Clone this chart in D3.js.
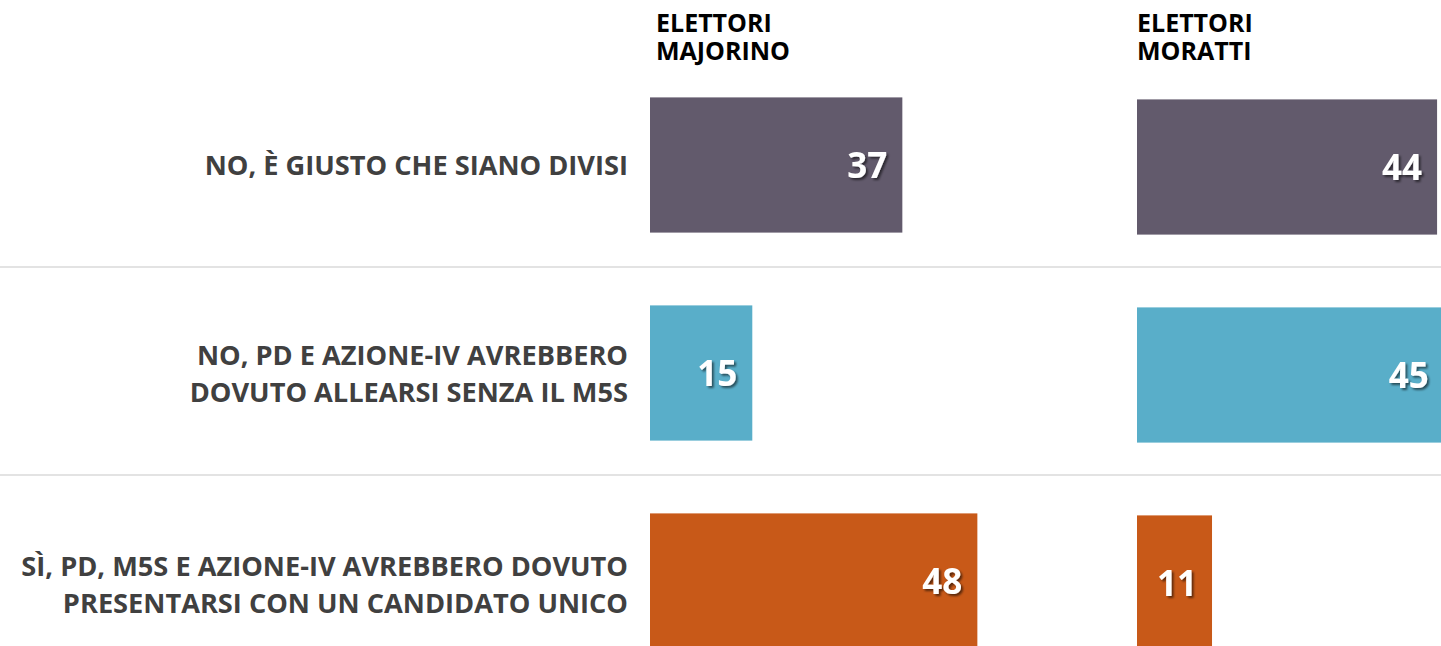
<!DOCTYPE html>
<meta charset="utf-8">
<style>
    body { margin: 0; background: #fff; }
    text { font-family: "Open Sans", sans-serif; font-weight: 700; }
    .label { fill: #404040; font-size: 27.2px; }
    .head { fill: #000; font-size: 25px; }
    .value { fill: #fff; font-size: 35px; }
    .sep { stroke: #e3e3e3; stroke-width: 2; }
</style>
<body>
<script src="https://cdn.jsdelivr.net/npm/d3@7"></script>
<script>
    var categories = ["no_divisi", "no_senza_m5s", "si_unico"];
    var labels = [
        ["NO, È GIUSTO CHE SIANO DIVISI"],
        ["NO, PD E AZIONE-IV AVREBBERO", "DOVUTO ALLEARSI SENZA IL M5S"],
        ["SÌ, PD, M5S E AZIONE-IV AVREBBERO DOVUTO", "PRESENTARSI CON UN CANDIDATO UNICO"]
    ];
    var groups = [["ELETTORI", "MAJORINO"], ["ELETTORI", "MORATTI"]];
    var majorino = [37, 15, 48];
    var moratti = [44, 45, 11];
    var colors = ["#625a6c", "#59aec9", "#c85918"];

    var width = 1441, height = 646;

    var svg = d3.select("body").append("svg")
        .attr("width", width)
        .attr("height", height);

    var defs = svg.append("defs");
    defs.append("filter").attr("id", "shadow")
        .attr("x", "-20%").attr("y", "-20%").attr("width", "150%").attr("height", "150%")
        .append("feDropShadow")
        .attr("dx", 2).attr("dy", 2).attr("stdDeviation", 1.2)
        .attr("flood-color", "#000").attr("flood-opacity", 0.55);

    var y = d3.scaleBand()
        .domain(categories)
        .range([61, 61 + 3 * 208])
        .paddingInner(0.35)
        .paddingOuter(0.175);

    var x = d3.scaleLinear().domain([0, 50]).range([0, 341]);

    // row separators
    svg.selectAll("line.sep")
        .data(categories.slice(1))
        .enter().append("line")
        .attr("class", "sep")
        .attr("x1", 0).attr("x2", width)
        .attr("y1", function(d) { return y(d) - y.step() * y.paddingInner() / 2 - 2; })
        .attr("y2", function(d) { return y(d) - y.step() * y.paddingInner() / 2 - 2; });

    // category labels
    var lab = svg.selectAll("text.label")
        .data(categories)
        .enter().append("text")
        .attr("class", "label")
        .attr("text-anchor", "end")
        .attr("transform", function(d) { return "translate(628," + (y(d) + y.bandwidth() / 2) + ")"; });

    lab.each(function(d, i) {
        var lines = labels[i];
        var t = d3.select(this);
        lines.forEach(function(l, j) {
            t.append("tspan")
                .attr("x", 0)
                .attr("y", (j - (lines.length - 1) / 2) * 37 + 10 + (i === 2 ? 3 : 0))
                .text(l);
        });
    });

    function panel(x0, dy, hx, head, values) {
        var g = svg.append("g").attr("transform", "translate(" + x0 + ",0)");

        var h = g.append("text").attr("class", "head");
        head.forEach(function(l, j) {
            h.append("tspan").attr("x", hx).attr("y", 32 + j * 28).text(l);
        });

        var bars = g.append("g").attr("transform", "translate(0," + dy + ")");

        bars.selectAll("rect")
            .data(values)
            .enter().append("rect")
            .attr("x", 0)
            .attr("y", function(d, i) { return y(categories[i]); })
            .attr("width", function(d) { return x(d); })
            .attr("height", y.bandwidth())
            .attr("fill", function(d, i) { return colors[i]; });

        bars.selectAll("text.value")
            .data(values)
            .enter().append("text")
            .attr("class", "value")
            .attr("text-anchor", "end")
            .attr("filter", "url(#shadow)")
            .attr("x", function(d) { return x(d) - 15; })
            .attr("y", function(d, i) { return y(categories[i]) + y.bandwidth() / 2 + 13; })
            .text(function(d) { return d; });
    }

    panel(650, 0, 6, groups[0], majorino);
    panel(1137, 2, 0, groups[1], moratti);
</script>
